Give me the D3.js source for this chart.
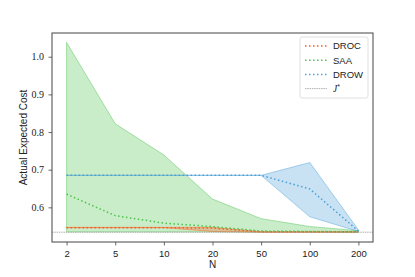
<!DOCTYPE html>
<html>
<head>
<meta charset="utf-8">
<script src="https://cdn.jsdelivr.net/npm/d3@7"></script>
<style>
  body { margin: 0; background: #fff; }
  svg { display: block; }
</style>
</head>
<body>
<div id="chart"></div>
<script>
// sample sizes (evenly spaced categories on the x axis)
const sampleSizes = ["2", "5", "10", "20", "50", "100", "200"];

// DROC
const drocMean  = [0.546, 0.546, 0.546, 0.545, 0.535, 0.535, 0.535];
const drocUpper = [0.547, 0.547, 0.547, 0.547, 0.535, 0.535, 0.535];
const drocLower = [0.546, 0.546, 0.546, 0.536, 0.534, 0.534, 0.534];

// SAA
const saaMean  = [0.635, 0.578, 0.558, 0.549, 0.537, 0.536, 0.535];
const saaUpper = [1.038, 0.822, 0.739, 0.622, 0.570, 0.549, 0.538];
const saaLower = [0.535, 0.535, 0.535, 0.535, 0.534, 0.534, 0.534];

// DROW
const drowMean  = [0.685, 0.685, 0.685, 0.685, 0.685, 0.649, 0.537];
const drowUpper = [0.685, 0.685, 0.685, 0.685, 0.685, 0.719, 0.540];
const drowLower = [0.685, 0.685, 0.685, 0.685, 0.685, 0.575, 0.536];

const jStar = 0.534;
const yTicks = [0.6, 0.7, 0.8, 0.9, 1.0];

const series = [
    { name: "DROC", color: "#ff5a1f", mean: drocMean, upper: drocUpper, lower: drocLower },
    { name: "SAA",  color: "#4cc24c", mean: saaMean,  upper: saaUpper,  lower: saaLower },
    { name: "DROW", color: "#4a9fd8", mean: drowMean, upper: drowUpper, lower: drowLower }
];

const SANS = "'Liberation Sans', sans-serif";
const SERIF = "'Liberation Serif', serif";

const width = 415, height = 277;
const margin = { top: 33, right: 42, bottom: 35, left: 52 };

const svg = d3.select("#chart")
    .append("svg")
    .attr("width", width)
    .attr("height", height);

const x = d3.scalePoint()
    .domain(sampleSizes)
    .range([margin.left, width - margin.right])
    .padding(0.3);

const y = d3.scaleLinear()
    .domain([0.508, 1.063])
    .range([height - margin.bottom, margin.top]);

// bands first, drawn in the order SAA, DROW, DROC like the picture
const area = d3.area()
    .x((d, i) => x(sampleSizes[i]))
    .y0(d => y(d[0]))
    .y1(d => y(d[1]));

const line = d3.line()
    .x((d, i) => x(sampleSizes[i]))
    .y(d => y(d));

[series[1], series[2], series[0]].forEach(s => {
    svg.append("path")
        .datum(s.lower.map((v, i) => [v, s.upper[i]]))
        .attr("d", area)
        .attr("fill", s.color)
        .attr("fill-opacity", 0.3)
        .attr("stroke", s.color)
        .attr("stroke-opacity", 0.45)
        .attr("stroke-width", 1);
});

// J* reference line
svg.append("line")
    .attr("x1", margin.left)
    .attr("x2", width - margin.right)
    .attr("y1", y(jStar))
    .attr("y2", y(jStar))
    .attr("stroke", "#9a9a9a")
    .attr("stroke-width", 0.8)
    .attr("stroke-dasharray", "1.5,0.8");

// mean lines (dotted)
series.forEach(s => {
    svg.append("path")
        .datum(s.mean)
        .attr("d", line)
        .attr("fill", "none")
        .attr("stroke", s.color)
        .attr("stroke-width", 1.5)
        .attr("stroke-dasharray", "1.5,2.5");
});

// axes
const xAxis = svg.append("g")
    .attr("transform", `translate(0,${height - margin.bottom})`)
    .call(d3.axisBottom(x).tickSize(3.5).tickSizeOuter(0));
xAxis.select(".domain").remove();
xAxis.selectAll("text")
    .attr("dy", "0.9em")
    .style("font-family", SANS)
    .style("font-size", "9.5px")
    .attr("fill", "#222");

const yAxis = svg.append("g")
    .attr("transform", `translate(${margin.left},0)`)
    .call(d3.axisLeft(y).tickValues(yTicks).tickFormat(d3.format(".1f")).tickSize(3.5));
yAxis.select(".domain").remove();
yAxis.selectAll("text")
    .attr("x", -8)
    .style("font-family", SERIF)
    .style("font-size", "10px")
    .attr("fill", "#222");
svg.selectAll(".tick line").attr("stroke", "#444").attr("stroke-width", 0.8);

// frame
svg.append("rect")
    .attr("x", margin.left)
    .attr("y", margin.top)
    .attr("width", width - margin.left - margin.right)
    .attr("height", height - margin.top - margin.bottom)
    .attr("fill", "none")
    .attr("stroke", "#444")
    .attr("stroke-width", 1);

// axis labels
svg.append("text")
    .attr("x", x("20"))
    .attr("y", 268)
    .attr("text-anchor", "middle")
    .style("font-family", SANS)
    .style("font-size", "10px")
    .attr("fill", "#222")
    .text("N");

svg.append("text")
    .attr("transform", `translate(27,${(margin.top + height - margin.bottom) / 2}) rotate(-90)`)
    .attr("text-anchor", "middle")
    .style("font-family", SANS)
    .style("font-size", "10px")
    .attr("fill", "#222")
    .text("Actual Expected Cost");

// legend
const legend = svg.append("g").attr("transform", "translate(300,37)");
legend.append("rect")
    .attr("width", 68)
    .attr("height", 61)
    .attr("rx", 2)
    .attr("fill", "#fff")
    .attr("fill-opacity", 0.8)
    .attr("stroke", "#d8d8d8")
    .attr("stroke-width", 0.8);

const legendItems = series.map(s => ({ name: s.name, color: s.color, dash: "1.5,2.5", w: 1.5 }))
    .concat([{ name: "J*", color: "#9a9a9a", dash: "1.5,0.8", w: 0.8 }]);

legendItems.forEach((d, i) => {
    const g = legend.append("g").attr("transform", `translate(0,${9 + i * 14.2})`);
    g.append("line")
        .attr("x1", 5).attr("x2", 27)
        .attr("stroke", d.color)
        .attr("stroke-width", d.w)
        .attr("stroke-dasharray", d.dash);
    const t = g.append("text")
        .attr("x", 33)
        .attr("dy", "0.35em")
        .style("font-family", SANS)
        .style("font-size", "9.5px")
        .attr("fill", "#222");
    if (d.name === "J*") {
        t.append("tspan").style("font-style", "italic").style("font-family", SERIF).text("J");
        t.append("tspan").attr("dy", "-0.4em").style("font-size", "7px").text("*");
    } else {
        t.text(d.name);
    }
});
</script>
</body>
</html>
